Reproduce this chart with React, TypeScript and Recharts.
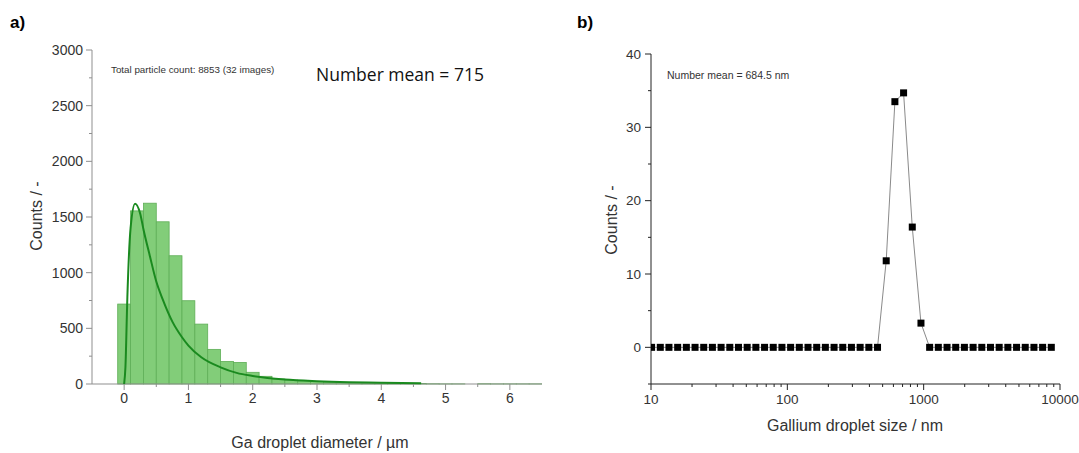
import React from 'react';
import { ComposedChart, Bar, Scatter, XAxis, YAxis } from 'recharts';

// panel a: histogram of Ga droplet diameters (bin width 0.2 µm)
const binCenters = [0, 0.2, 0.4, 0.6, 0.8, 1.0, 1.2, 1.4, 1.6, 1.8, 2.0, 2.2, 2.4, 2.6, 2.8, 3.0, 3.2, 3.4, 3.6, 3.8, 4.0, 4.2, 4.4, 4.6, 4.8, 5.0, 5.2, 5.4, 5.6, 5.8, 6.0, 6.2, 6.4];
const binCounts = [718, 1555, 1624, 1457, 1152, 748, 538, 311, 203, 194, 105, 69, 45, 35, 28, 22, 17, 14, 11, 9, 8, 6, 5, 4, 2, 1, 1, 0, 2, 1, 1, 1, 1];

// fitted distribution curve
const fitX = [0, 0.02, 0.05, 0.1, 0.17, 0.25, 0.3, 0.4, 0.5, 0.6, 0.75, 0.9, 1.0, 1.2, 1.5, 1.75, 2.0, 2.5, 3.0, 3.5, 4.0, 4.62];
const fitY = [0, 150, 780, 1400, 1620, 1530, 1390, 1150, 920, 760, 560, 420, 345, 240, 150, 100, 72, 40, 25, 16, 11, 7];

const aXTicks = [0, 0.5, 1, 1.5, 2, 2.5, 3, 3.5, 4, 4.5, 5, 5.5, 6];
const aYTicks = [0, 250, 500, 750, 1000, 1250, 1500, 1750, 2000, 2250, 2500, 2750, 3000];

// panel b: size distribution on log bins
const sizesNm = [10.1, 11.7, 13.54, 15.69, 18.17, 21.04, 24.36, 28.21, 32.67, 37.84, 43.82, 50.75, 58.77, 68.06, 78.82, 91.28, 105.7, 122.4, 141.8, 164.2, 190.1, 220.2, 255.0, 295.3, 342.0, 396.1, 458.7, 531.2, 615.1, 712.4, 825.0, 955.4, 1106, 1281, 1484, 1718, 1990, 2305, 2669, 3091, 3580, 4145, 4801, 5560, 6439, 7456, 8635];
const sizeCounts = [0, 0, 0, 0, 0, 0, 0, 0, 0, 0, 0, 0, 0, 0, 0, 0, 0, 0, 0, 0, 0, 0, 0, 0, 0, 0, 0, 11.8, 33.5, 34.7, 16.4, 3.3, 0, 0, 0, 0, 0, 0, 0, 0, 0, 0, 0, 0, 0, 0, 0];

const bXTicks = [10, 20, 30, 40, 50, 60, 70, 80, 90, 100, 200, 300, 400, 500, 600, 700, 800, 900, 1000, 2000, 3000, 4000, 5000, 6000, 7000, 8000, 9000, 10000];
const bXLabels = [10, 100, 1000, 10000];
const bYTicks = [-5, 0, 5, 10, 15, 20, 25, 30, 35, 40];
const bYLabels = [0, 10, 20, 30, 40];

const histData = binCenters.map((x, i) => ({ x, count: binCounts[i] }));
const fitData = fitX.map((x, i) => ({ x, y: fitY[i] }));
const sizeData = sizesNm.map((size, i) => ({ size, count: sizeCounts[i] }));

const FONT = '"Liberation Sans", Arial, sans-serif';

type Side = 'left' | 'right' | 'top' | 'bottom';

const makeTick = (side: Side, isMajor: (v: number) => boolean, showLabel: (v: number) => boolean,
  major: number, minor: number, lineColor: string, textColor: string, fontSize: number, gap: number) =>
  (props: any) => {
    const { x, y, payload } = props;
    const v = payload.value;
    const len = isMajor(v) ? major : minor;
    const lbl = showLabel(v) ? String(v) : '';
    let line = null;
    let text = null;
    if (side === 'left') {
      line = <line x1={x} x2={x - len} y1={y} y2={y} stroke={lineColor} />;
      text = <text x={x - major - gap} y={y} textAnchor="end" dominantBaseline="central" fill={textColor} fontSize={fontSize} fontFamily={FONT}>{lbl}</text>;
    } else if (side === 'right') {
      line = <line x1={x} x2={x + len} y1={y} y2={y} stroke={lineColor} />;
    } else if (side === 'bottom') {
      line = <line x1={x} x2={x} y1={y} y2={y + len} stroke={lineColor} />;
      text = <text x={x} y={y + major + gap} textAnchor="middle" dominantBaseline="hanging" fill={textColor} fontSize={fontSize} fontFamily={FONT}>{lbl}</text>;
    } else {
      line = <line x1={x} x2={x} y1={y} y2={y - len} stroke={lineColor} />;
    }
    return <g>{line}{lbl ? text : null}</g>;
  };

const GRAY = '#8f8f8f';
const aXTick = makeTick('bottom', (v) => Number.isInteger(v), (v) => Number.isInteger(v), 6, 3, GRAY, '#333', 14, 3);
const aYTick = makeTick('left', (v) => v % 500 === 0, (v) => v % 500 === 0, 6, 3, GRAY, '#333', 14, 3);

const isDecade = (v: number) => bXLabels.includes(v);
const bXTick = makeTick('bottom', isDecade, isDecade, 6, 3, '#222', '#333', 13.5, 4);
const bTopTick = makeTick('top', isDecade, () => false, 6, 3, '#222', '#333', 13.5, 4);
const bYTick = makeTick('left', (v) => bYLabels.includes(v), (v) => bYLabels.includes(v), 6, 3, '#222', '#333', 13.5, 4);
const bRightTick = makeTick('right', (v) => bYLabels.includes(v), () => false, 6, 3, '#222', '#333', 13.5, 4);

// histogram bar: 0.2 µm wide on a 450px / 7 µm axis
const BIN_PX = (450 / 7) * 0.2;
const HistBar = (p: any) => {
  if (!p.height || p.height <= 0) return <g />;
  const cx = p.x + p.width / 2;
  return <rect x={cx - BIN_PX / 2} y={p.y} width={BIN_PX} height={p.height} fill="#82cd79" stroke="#5fae57" strokeWidth={0.8} />;
};

const Square = (p: any) => <rect x={p.cx - 3.5} y={p.cy - 3.5} width={7} height={7} fill="#000" />;
const NoDot = () => <g />;

const abs = (left: number, top: number, extra: React.CSSProperties = {}): React.CSSProperties => ({
  position: 'absolute', left, top, whiteSpace: 'nowrap', fontFamily: FONT, color: '#222', lineHeight: 1, ...extra,
});

export default function App() {
  return (
    <div style={{ position: 'absolute', left: 0, top: 0, width: 1079, height: 453, background: '#fff', overflow: 'hidden' }}>
      <div style={abs(10, 14, { fontSize: 17, fontWeight: 'bold', color: '#000' })}>a)</div>
      <div style={abs(577, 14, { fontSize: 17, fontWeight: 'bold', color: '#000' })}>b)</div>

      <div style={{ position: 'absolute', left: 0, top: 0 }}>
        <ComposedChart width={560} height={453} data={histData} margin={{ top: 50, right: 18, bottom: 39, left: 32 }}>
          <XAxis dataKey="x" type="number" domain={[-0.5, 6.5]} ticks={aXTicks} interval={0} allowDataOverflow
            height={30} tickSize={0} tickMargin={0} tick={aXTick} axisLine={{ stroke: GRAY }} tickLine={false} />
          <XAxis xAxisId="top" orientation="top" type="number" domain={[-0.5, 6.5]} height={0} tick={false} tickLine={false} axisLine={{ stroke: GRAY }} />
          <YAxis type="number" domain={[0, 3000]} ticks={aYTicks} interval={0} width={60}
            tickSize={0} tickMargin={0} tick={aYTick} axisLine={{ stroke: GRAY }} tickLine={false} />
          <YAxis yAxisId="right" orientation="right" type="number" domain={[0, 3000]} width={0} tick={false} tickLine={false} axisLine={{ stroke: GRAY }} />
          <Bar dataKey="count" shape={HistBar} isAnimationActive={false} />
          <Scatter data={fitData} dataKey="y" shape={NoDot} line={{ stroke: '#1a8a1f', strokeWidth: 2 }} lineJointType="monotoneX" isAnimationActive={false} />
        </ComposedChart>
      </div>
      <div style={abs(111, 65, { fontSize: 9.8, color: '#333' })}>Total particle count: 8853 (32 images)</div>
      <div style={abs(316, 66, { fontSize: 17.5, fontFamily: '"Open Sans", sans-serif', color: '#111' })}>Number mean = 715</div>
      <div style={abs(37, 216, { fontSize: 16, color: '#333', transform: 'translate(-50%, -50%) rotate(-90deg)' })}>Counts / -</div>
      <div style={abs(320, 443, { fontSize: 16, color: '#333', transform: 'translate(-50%, -50%)' })}>Ga droplet diameter / µm</div>

      <div style={{ position: 'absolute', left: 560, top: 0 }}>
        <ComposedChart width={519} height={453} data={sizeData} margin={{ top: 54, right: 19, bottom: 39, left: 31 }}>
          <XAxis dataKey="size" type="number" scale="log" domain={[10, 10000]} ticks={bXTicks} interval={0} allowDataOverflow
            height={30} tickSize={0} tickMargin={0} tick={bXTick} axisLine={{ stroke: '#222' }} tickLine={false} />
          <XAxis xAxisId="top" orientation="top" dataKey="size" type="number" scale="log" domain={[10, 10000]} ticks={bXTicks} interval={0} allowDataOverflow
            height={0} tickSize={0} tickMargin={0} tick={bTopTick} axisLine={{ stroke: '#222' }} tickLine={false} />
          <YAxis type="number" domain={[-5, 40]} ticks={bYTicks} interval={0} width={60} allowDataOverflow
            tickSize={0} tickMargin={0} tick={bYTick} axisLine={{ stroke: '#222' }} tickLine={false} />
          <YAxis yAxisId="right" orientation="right" type="number" domain={[-5, 40]} ticks={bYTicks} interval={0} width={0}
            tickSize={0} tickMargin={0} tick={bRightTick} axisLine={{ stroke: '#222' }} tickLine={false} />
          <Scatter dataKey="count" shape={Square} line={{ stroke: '#8a8a8a', strokeWidth: 1 }} isAnimationActive={false} />
        </ComposedChart>
      </div>
      <div style={abs(667, 70, { fontSize: 10.5, color: '#333' })}>Number mean = 684.5 nm</div>
      <div style={abs(612, 220, { fontSize: 16, color: '#333', transform: 'translate(-50%, -50%) rotate(-90deg)' })}>Counts / -</div>
      <div style={abs(855, 426, { fontSize: 16, color: '#333', transform: 'translate(-50%, -50%)' })}>Gallium droplet size / nm</div>
    </div>
  );
}
